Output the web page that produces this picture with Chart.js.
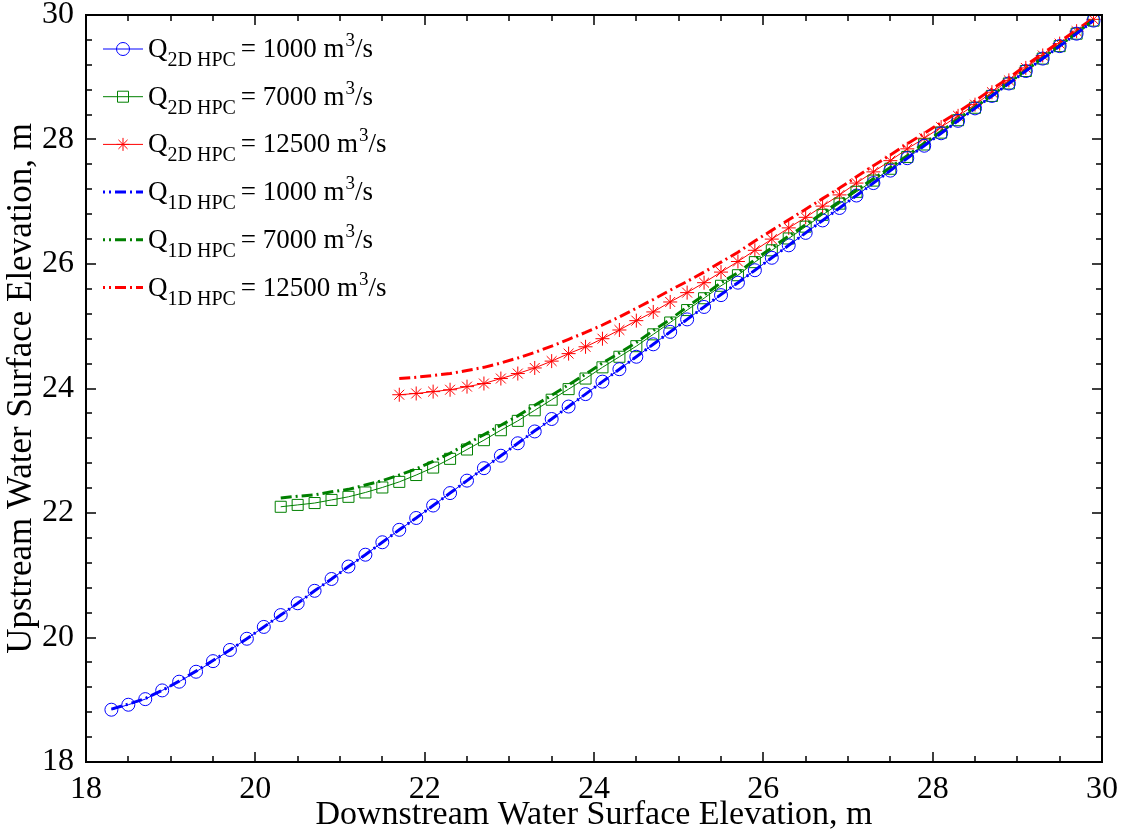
<!DOCTYPE html>
<html lang="en">
<head>
<meta charset="UTF-8">
<title>Upstream vs Downstream Water Surface Elevation</title>
<script src="https://cdn.jsdelivr.net/npm/chart.js"></script>
<style>
  body { margin: 0; background: #fff; }
  canvas { display: block; }
</style>
</head>
<body>
<canvas id="hpcChart" width="1131" height="837"></canvas>
<script>
  // downstream elevations (m), every 0.2 m
  var xBlue = [18.3, 18.5, 18.7, 18.9, 19.1, 19.3, 19.5, 19.7, 19.9, 20.1,
    20.3, 20.5, 20.7, 20.9, 21.1, 21.3, 21.5, 21.7, 21.9, 22.1,
    22.3, 22.5, 22.7, 22.9, 23.1, 23.3, 23.5, 23.7, 23.9, 24.1,
    24.3, 24.5, 24.7, 24.9, 25.1, 25.3, 25.5, 25.7, 25.9, 26.1,
    26.3, 26.5, 26.7, 26.9, 27.1, 27.3, 27.5, 27.7, 27.9, 28.1,
    28.3, 28.5, 28.7, 28.9, 29.1, 29.3, 29.5, 29.7, 29.9];
  var xGreen = xBlue.slice(10); // from 20.3
  var xRed = xBlue.slice(17);   // from 21.7

  // upstream elevations (m), 2D HPC
  var q1000_2d = [18.84, 18.92, 19.01, 19.15, 19.29, 19.45, 19.62, 19.80, 19.98, 20.17,
    20.36, 20.55, 20.75, 20.94, 21.14, 21.33, 21.53, 21.73, 21.92, 22.12,
    22.32, 22.52, 22.72, 22.92, 23.12, 23.31, 23.51, 23.71, 23.91, 24.11,
    24.31, 24.51, 24.71, 24.91, 25.11, 25.31, 25.50, 25.70, 25.90, 26.10,
    26.30, 26.50, 26.70, 26.90, 27.10, 27.30, 27.50, 27.70, 27.90, 28.10,
    28.30, 28.50, 28.70, 28.90, 29.10, 29.30, 29.50, 29.70, 29.91];
  var q7000_2d = [22.10, 22.13, 22.16, 22.21, 22.26, 22.33, 22.41, 22.50, 22.61, 22.73,
    22.87, 23.02, 23.17, 23.33, 23.48, 23.65, 23.82, 23.99, 24.16, 24.34,
    24.51, 24.68, 24.87, 25.06, 25.26, 25.45, 25.65, 25.82, 26.03, 26.22,
    26.41, 26.60, 26.79, 26.97, 27.16, 27.34, 27.53, 27.72, 27.92, 28.11,
    28.31, 28.51, 28.70, 28.90, 29.10, 29.30, 29.50, 29.70, 29.91];
  var q12500_2d = [23.90, 23.92, 23.95, 23.98, 24.03, 24.08, 24.16, 24.24, 24.33, 24.44,
    24.56, 24.67, 24.80, 24.94, 25.09, 25.23, 25.39, 25.54, 25.70, 25.87,
    26.04, 26.22, 26.40, 26.58, 26.75, 26.93, 27.11, 27.30, 27.48, 27.66,
    27.85, 28.02, 28.20, 28.38, 28.56, 28.76, 28.95, 29.15, 29.35, 29.54,
    29.74, 29.93];

  // upstream elevations (m), 1D HPC
  var q1000_1d = [18.85, 18.93, 19.02, 19.15, 19.30, 19.46, 19.63, 19.80, 19.98, 20.17,
    20.36, 20.55, 20.75, 20.94, 21.14, 21.33, 21.53, 21.73, 21.92, 22.12,
    22.32, 22.52, 22.72, 22.92, 23.12, 23.32, 23.51, 23.71, 23.91, 24.11,
    24.31, 24.51, 24.71, 24.91, 25.11, 25.31, 25.51, 25.70, 25.90, 26.10,
    26.30, 26.50, 26.70, 26.90, 27.10, 27.30, 27.50, 27.70, 27.90, 28.10,
    28.30, 28.50, 28.70, 28.90, 29.10, 29.30, 29.50, 29.70, 29.91];
  var q7000_1d = [22.24, 22.27, 22.29, 22.34, 22.38, 22.45, 22.52, 22.61, 22.71, 22.83,
    22.96, 23.11, 23.26, 23.41, 23.56, 23.73, 23.89, 24.06, 24.23, 24.41,
    24.57, 24.74, 24.93, 25.11, 25.31, 25.50, 25.70, 25.86, 26.07, 26.26,
    26.45, 26.63, 26.82, 27.00, 27.19, 27.37, 27.55, 27.74, 27.94, 28.13,
    28.33, 28.52, 28.71, 28.91, 29.11, 29.31, 29.51, 29.71, 29.92];
  var q12500_1d = [24.16, 24.18, 24.21, 24.24, 24.29, 24.34, 24.41, 24.49, 24.58, 24.68,
    24.79, 24.90, 25.02, 25.15, 25.29, 25.43, 25.58, 25.72, 25.87, 26.03,
    26.19, 26.37, 26.54, 26.71, 26.88, 27.05, 27.22, 27.40, 27.58, 27.75,
    27.93, 28.10, 28.27, 28.44, 28.62, 28.81, 28.99, 29.19, 29.38, 29.57,
    29.76, 29.95];

  var seriesColors = ['#0000ff', '#008000', '#ff0000'];
  var legendModel = ['2D HPC', '2D HPC', '2D HPC', '1D HPC', '1D HPC', '1D HPC'];
  var legendFlow = ['1000', '7000', '12500', '1000', '7000', '12500'];
  var xTitle = 'Downstream Water Surface Elevation, m';
  var yTitle = 'Upstream Water Surface Elevation, m';

  var SERIF = '"Liberation Serif", "Times New Roman", serif';
  var DASH = [11, 4, 2, 4];

  function toPoints(xs, ys) {
    return xs.map(function (x, i) { return { x: x, y: ys[i] }; });
  }

  function series2d(xs, ys, color, style, radius) {
    return {
      data: toPoints(xs, ys),
      borderColor: color,
      borderWidth: 1,
      pointStyle: style,
      pointRadius: radius,
      pointBorderColor: color,
      pointBackgroundColor: 'rgba(0,0,0,0)',
      pointBorderWidth: 1,
      fill: false,
      order: 1
    };
  }

  function series1d(xs, ys, color) {
    return {
      data: toPoints(xs, ys),
      borderColor: color,
      borderWidth: 3,
      borderDash: DASH,
      pointRadius: 0,
      fill: false,
      order: 0
    };
  }

  function drawMarker(ctx, style, x, y) {
    ctx.beginPath();
    if (style === 'circle') {
      ctx.arc(x, y, 6.5, 0, Math.PI * 2);
    } else if (style === 'rect') {
      ctx.rect(x - 5.5, y - 5.5, 11, 11);
    } else if (style === 'star') {
      for (var k = 0; k < 4; k++) {
        var a = k * Math.PI / 4;
        ctx.moveTo(x - Math.cos(a) * 6.5, y - Math.sin(a) * 6.5);
        ctx.lineTo(x + Math.cos(a) * 6.5, y + Math.sin(a) * 6.5);
      }
    }
    ctx.stroke();
  }

  // inward ticks on all four sides plus the box, then the legend
  var frameTicks = {
    id: 'frameTicks',
    afterDatasetsDraw: function (chart) {
      var ctx = chart.ctx, a = chart.chartArea;
      var xs = chart.scales.x, ys = chart.scales.y;
      var i, p, len;
      ctx.save();
      ctx.strokeStyle = '#000';
      ctx.lineWidth = 1.5;
      ctx.beginPath();
      for (i = 0; i <= 24; i++) {
        p = Math.round(xs.getPixelForValue(18 + i * 0.5));
        len = (i % 4 === 0) ? 10 : 6;
        ctx.moveTo(p, a.bottom); ctx.lineTo(p, a.bottom - len);
        ctx.moveTo(p, a.top); ctx.lineTo(p, a.top + len);
      }
      for (i = 0; i <= 30; i++) {
        p = Math.round(ys.getPixelForValue(18 + i * 0.4));
        len = (i % 5 === 0) ? 10 : 6;
        ctx.moveTo(a.left, p); ctx.lineTo(a.left + len, p);
        ctx.moveTo(a.right, p); ctx.lineTo(a.right - len, p);
      }
      ctx.stroke();
      ctx.lineWidth = 2;
      ctx.strokeRect(a.left, a.top, a.right - a.left, a.bottom - a.top);
      ctx.restore();
    },
    afterDraw: function (chart) {
      var ctx = chart.ctx;
      var styles = ['circle', 'rect', 'star'];
      ctx.save();
      for (var i = 0; i < 6; i++) {
        var ly = 49 + i * 47.7;
        var color = seriesColors[i % 3];
        ctx.strokeStyle = color;
        if (i < 3) {
          ctx.lineWidth = 1;
          ctx.setLineDash([]);
        } else {
          ctx.lineWidth = 3;
          ctx.setLineDash(DASH);
          ctx.lineDashOffset = 9;
        }
        ctx.beginPath();
        ctx.moveTo(103, ly); ctx.lineTo(143, ly);
        ctx.stroke();
        ctx.setLineDash([]);
        if (i < 3) {
          ctx.lineWidth = 1;
          drawMarker(ctx, styles[i], 123, ly);
        }
        // label text
        var x = 148;
        ctx.fillStyle = '#000';
        ctx.textBaseline = 'alphabetic';
        ctx.textAlign = 'left';
        ctx.font = '27px ' + SERIF;
        ctx.fillText('Q', x, ly + 8);
        x += ctx.measureText('Q').width;
        ctx.font = '20px ' + SERIF;
        ctx.fillText(legendModel[i], x, ly + 17);
        x += ctx.measureText(legendModel[i]).width + 5;
        ctx.font = '27px ' + SERIF;
        var s = '= ' + legendFlow[i] + ' m';
        ctx.fillText(s, x, ly + 8);
        x += ctx.measureText(s).width + 1;
        ctx.font = '19px ' + SERIF;
        ctx.fillText('3', x, ly - 3);
        x += ctx.measureText('3').width;
        ctx.font = '27px ' + SERIF;
        ctx.fillText('/s', x, ly + 8);
      }
      ctx.restore();
    }
  };

  var ctx = document.getElementById('hpcChart').getContext('2d');
  var hpcChart = new Chart(ctx, {
    type: 'line',
    data: {
      datasets: [
        series2d(xBlue, q1000_2d, seriesColors[0], 'circle', 6.5),
        series2d(xGreen, q7000_2d, seriesColors[1], 'rect', 7.8),
        series2d(xRed, q12500_2d, seriesColors[2], 'star', 7),
        series1d(xBlue, q1000_1d, seriesColors[0]),
        series1d(xGreen, q7000_1d, seriesColors[1]),
        series1d(xRed, q12500_1d, seriesColors[2])
      ]
    },
    options: {
      responsive: false,
      animation: false,
      events: [],
      layout: { padding: { top: 15, right: 29, left: 0, bottom: 0 } },
      plugins: {
        legend: { display: false },
        tooltip: { enabled: false }
      },
      elements: { line: { tension: 0 } },
      scales: {
        x: {
          type: 'linear',
          min: 18,
          max: 30,
          grid: { display: false, drawTicks: false },
          border: { display: false },
          ticks: {
            stepSize: 2,
            maxRotation: 0,
            autoSkip: false,
            padding: 8,
            color: '#000',
            font: { family: SERIF, size: 32 }
          },
          title: {
            display: true,
            text: xTitle,
            color: '#000',
            font: { family: SERIF, size: 34, lineHeight: 1 },
            padding: { top: 0, bottom: 5 }
          },
          afterFit: function (scale) {
            scale.height = 75;
            scale.paddingLeft = 0;
            scale.paddingRight = 0;
          }
        },
        y: {
          type: 'linear',
          min: 18,
          max: 30,
          grid: { display: false, drawTicks: false },
          border: { display: false },
          ticks: {
            stepSize: 2,
            autoSkip: false,
            padding: 12,
            color: '#000',
            font: { family: SERIF, size: 32 }
          },
          title: {
            display: true,
            text: yTitle,
            color: '#000',
            font: { family: SERIF, size: 35, lineHeight: 1 },
            padding: { top: 4, bottom: 0 }
          },
          afterFit: function (scale) {
            scale.width = 86;
            scale.paddingTop = 0;
            scale.paddingBottom = 0;
          }
        }
      }
    },
    plugins: [frameTicks]
  });
</script>
</body>
</html>
